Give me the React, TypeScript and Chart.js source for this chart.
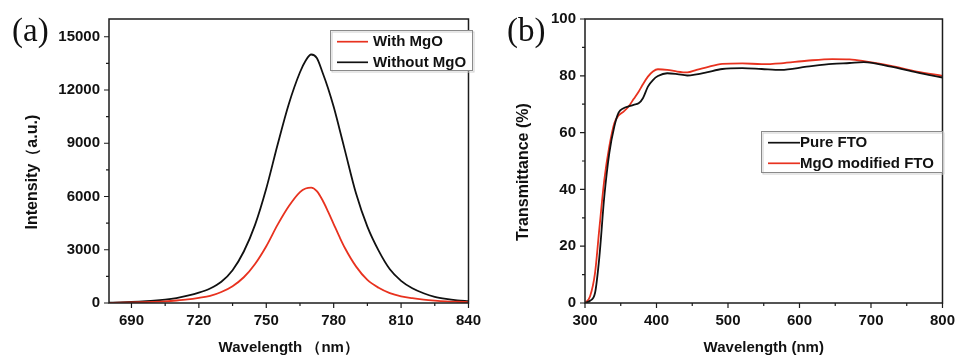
import React, { useEffect, useRef } from 'react';
import { Chart, registerables } from 'chart.js';

Chart.register(...registerables);

const SANS = "'Liberation Sans', Arial, Helvetica, sans-serif";
const SERIF = "'Liberation Serif', 'Times New Roman', serif";
const RED = '#e8321f';
const BLACK = '#111111';

// ---------- Panel (a): PL spectra ----------
const plWavelength = [680, 685, 690, 695, 700, 705, 710, 715, 720, 725, 730, 735, 740, 745, 750, 755, 760, 765, 767.5, 770, 772.5, 775, 777.5, 780, 782.5, 785, 790, 795, 800, 805, 810, 815, 820, 825, 830, 835, 840];
const plWithMgO = [10, 18, 30, 45, 65, 95, 140, 200, 290, 400, 620, 950, 1450, 2200, 3200, 4400, 5450, 6250, 6450, 6500, 6300, 5800, 5150, 4450, 3750, 3100, 2050, 1300, 860, 560, 380, 270, 190, 135, 95, 70, 50];
const plWithoutMgO = [20, 35, 60, 95, 130, 190, 280, 410, 580, 820, 1200, 1850, 2900, 4400, 6450, 8900, 11200, 13000, 13650, 14000, 13800, 13000, 12100, 11050, 9850, 8600, 6150, 4300, 2950, 1900, 1250, 830, 550, 350, 230, 150, 100];
const plXTicks = [690, 720, 750, 780, 810, 840];
const plXMinor = [705, 735, 765, 795, 825];
const plYTicks = [0, 3000, 6000, 9000, 12000, 15000];
const plYMinor = [1500, 4500, 7500, 10500, 13500];

// ---------- Panel (b): transmittance ----------
const trWavelength = [300, 307, 314, 320, 327, 334, 341, 347, 354, 361, 368, 375, 381, 388, 395, 402, 415, 429, 443, 456, 470, 492, 520, 547, 574, 610, 646, 670, 690, 728, 764, 800];
const trPureFTO = [0, 0.8, 3.5, 16, 37.5, 52.8, 62.1, 67, 68.6, 69.2, 69.8, 70.3, 72.1, 76.2, 78.5, 79.9, 80.9, 80.6, 80.1, 80.5, 81.2, 82.4, 82.7, 82.4, 82.1, 83.2, 84.2, 84.5, 84.8, 83.2, 81.2, 79.4];
const trMgOFTO = [0, 2.3, 10.5, 26, 43.4, 55.1, 63.3, 66, 67.4, 69.2, 71.8, 74.4, 77, 79.7, 81.5, 82.3, 82.1, 81.5, 81.2, 82.1, 83, 84.2, 84.4, 84.1, 84.4, 85.3, 85.9, 85.8, 85.2, 83.5, 81.5, 80.0];
const trXTicks = [300, 400, 500, 600, 700, 800];
const trXMinor = [350, 450, 550, 650, 750];
const trYTicks = [0, 20, 40, 60, 80, 100];
const trYMinor = [10, 30, 50, 70, 90];

type LegendSpec = { x: number; y: number; w: number; h: number; lx1: number; lx2: number; tx: number; rows: number[]; order: number[] };
type Decor = { panel: string; panelX: number; xMinor: number[]; yMinor: number[]; legend: LegendSpec };

function decorPlugin(d: Decor) {
  return {
    id: 'decor',
    afterDraw(chart: any) {
      const ctx = chart.ctx as CanvasRenderingContext2D;
      const { left, right, top, bottom } = chart.chartArea;
      const xs = chart.scales.x;
      const ys = chart.scales.y;
      ctx.save();
      ctx.strokeStyle = '#1c1c1c';
      ctx.lineWidth = 1.5;
      ctx.strokeRect(left, top, right - left, bottom - top);
      ctx.beginPath();
      const xt = (v: number, len: number) => {
        const p = xs.getPixelForValue(v);
        ctx.moveTo(p, bottom);
        ctx.lineTo(p, bottom + len);
      };
      const yt = (v: number, len: number) => {
        const p = ys.getPixelForValue(v);
        ctx.moveTo(left, p);
        ctx.lineTo(left - len, p);
      };
      xs.ticks.forEach((t: any) => xt(t.value, 5));
      d.xMinor.forEach((v) => xt(v, 3));
      ys.ticks.forEach((t: any) => yt(t.value, 5));
      d.yMinor.forEach((v) => yt(v, 3));
      ctx.lineWidth = 1.2;
      ctx.stroke();

      // legend
      const L = d.legend;
      ctx.fillStyle = '#ffffff';
      ctx.fillRect(L.x, L.y, L.w, L.h);
      ctx.strokeStyle = '#d0d0d0';
      ctx.lineWidth = 1;
      ctx.strokeRect(L.x + 1.5, L.y + 1.5, L.w, L.h);
      ctx.strokeStyle = '#8a8a8a';
      ctx.strokeRect(L.x, L.y, L.w, L.h);
      ctx.font = `bold 15px ${SANS}`;
      ctx.textBaseline = 'middle';
      ctx.textAlign = 'left';
      L.order.forEach((di, i) => {
        const ds = chart.data.datasets[di];
        const yy = L.rows[i];
        ctx.strokeStyle = ds.borderColor;
        ctx.lineWidth = 1.7;
        ctx.beginPath();
        ctx.moveTo(L.lx1, yy);
        ctx.lineTo(L.lx2, yy);
        ctx.stroke();
        ctx.fillStyle = '#111';
        ctx.fillText(ds.label, L.tx, yy + 0.5);
      });

      // panel label
      ctx.font = `33px ${SERIF}`;
      ctx.fillStyle = '#111';
      ctx.textBaseline = 'alphabetic';
      ctx.fillText(d.panel, d.panelX, 41);
      ctx.restore();
    },
  };
}

const tickFont = { family: SANS, size: 15, weight: 'bold' as const };

function makeConfig(opts: {
  xs: number[]; series: { label: string; color: string; values: number[] }[];
  xMin: number; xMax: number; yMin: number; yMax: number; xTicks: number[]; yTicks: number[];
  xTitle: string; yTitle: string; yWidth: number; padRight: number; yTitlePad: number; decor: Decor;
}) {
  return {
    type: 'line' as const,
    data: {
      datasets: opts.series.map((s) => ({
        label: s.label,
        data: opts.xs.map((x, i) => ({ x, y: s.values[i] })),
        borderColor: s.color,
        backgroundColor: s.color,
        borderWidth: 1.8,
        pointRadius: 0,
        cubicInterpolationMode: 'monotone' as const,
        fill: false,
      })),
    },
    options: {
      responsive: false,
      animation: false as const,
      devicePixelRatio: 1,
      layout: { padding: { left: 0, top: 19, right: opts.padRight, bottom: 0 } },
      plugins: { legend: { display: false }, tooltip: { enabled: false } },
      scales: {
        x: {
          type: 'linear' as const,
          min: opts.xMin,
          max: opts.xMax,
          afterBuildTicks: (s: any) => { s.ticks = opts.xTicks.map((v) => ({ value: v })); },
          afterFit: (s: any) => { s.height = 55; },
          grid: { display: false, drawTicks: false },
          border: { display: false },
          ticks: { font: tickFont, color: '#111', padding: 9, maxRotation: 0, autoSkip: false, callback: (v: any) => String(v) },
          title: { display: true, text: opts.xTitle, font: { family: SANS, size: 15, weight: 'bold' as const }, color: '#111', padding: { top: 0, bottom: 1 } },
        },
        y: {
          type: 'linear' as const,
          min: opts.yMin,
          max: opts.yMax,
          afterBuildTicks: (s: any) => { s.ticks = opts.yTicks.map((v) => ({ value: v })); },
          afterFit: (s: any) => { s.width = opts.yWidth; },
          grid: { display: false, drawTicks: false },
          border: { display: false },
          ticks: { font: tickFont, color: '#111', padding: 9, autoSkip: false, callback: (v: any) => String(v) },
          title: { display: true, text: opts.yTitle, font: { family: SANS, size: 16, weight: 'bold' as const }, color: '#111', padding: { top: opts.yTitlePad, bottom: 0 } },
        },
      },
    },
    plugins: [decorPlugin(opts.decor)],
  };
}

function ChartCanvas({ config, width, left }: { config: any; width: number; left: number }) {
  const ref = useRef<HTMLCanvasElement | null>(null);
  useEffect(() => {
    if (!ref.current) return;
    const chart = new Chart(ref.current, config);
    return () => chart.destroy();
  }, [config]);
  return <canvas ref={ref} width={width} height={358} style={{ position: 'absolute', left, top: 0, width, height: 358 }} />;
}

const configA = makeConfig({
  xs: plWavelength,
  series: [
    { label: 'With MgO', color: RED, values: plWithMgO },
    { label: 'Without MgO', color: BLACK, values: plWithoutMgO },
  ],
  xMin: 680, xMax: 840, yMin: 0, yMax: 16000, xTicks: plXTicks, yTicks: plYTicks,
  xTitle: 'Wavelength （nm）', yTitle: 'Intensity（a.u.)     ', yWidth: 109, padRight: 12, yTitlePad: 23,
  decor: {
    panel: '(a)', panelX: 12, xMinor: plXMinor, yMinor: plYMinor,
    legend: { x: 330.5, y: 30.5, w: 142, h: 40, lx1: 337, lx2: 368, tx: 373, rows: [41.7, 62.3], order: [0, 1] },
  },
});

const configB = makeConfig({
  xs: trWavelength,
  series: [
    { label: 'Pure FTO', color: BLACK, values: trPureFTO },
    { label: 'MgO modified FTO', color: RED, values: trMgOFTO },
  ],
  xMin: 300, xMax: 800, yMin: 0, yMax: 100, xTicks: trXTicks, yTicks: trYTicks,
  xTitle: 'Wavelength (nm)', yTitle: 'Transmittance (%)     ', yWidth: 95, padRight: 11, yTitlePad: 24,
  decor: {
    panel: '(b)', panelX: 17, xMinor: trXMinor, yMinor: trYMinor,
    legend: { x: 271.5, y: 131.5, w: 181, h: 41, lx1: 278, lx2: 310, tx: 310, rows: [142.7, 163.3], order: [0, 1] },
  },
});

export default function App() {
  return (
    <div style={{ position: 'fixed', left: 0, top: 0, width: 964, height: 358, background: '#fff', overflow: 'hidden' }}>
      <ChartCanvas config={configA} width={490} left={0} />
      <ChartCanvas config={configB} width={474} left={490} />
    </div>
  );
}
